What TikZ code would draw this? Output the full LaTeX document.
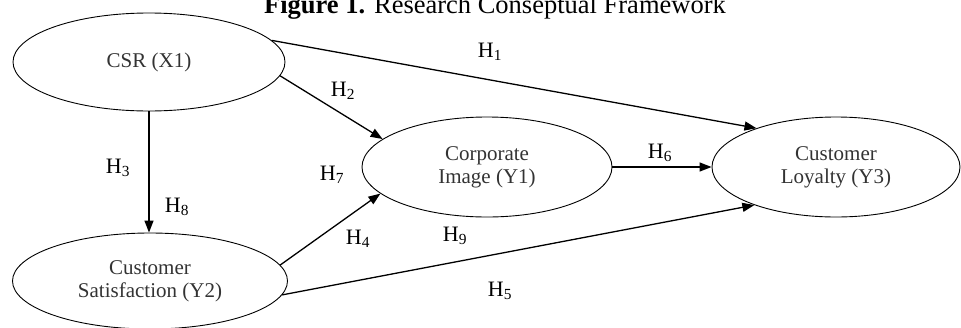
\documentclass[tikz,border=0pt]{standalone}
\usepackage{fontspec}
\setmainfont{Liberation Serif}
\usetikzlibrary{shapes.geometric,arrows.meta,calc}

\tikzset{
  construct/.style={ellipse, draw, line width=0.9pt, inner sep=0pt, text=black!80,
    align=center, font=\fontsize{21}{23}\selectfont},
  hyp/.style={font=\fontsize{22}{24}\selectfont},
  path/.style={line width=1.3pt, -{Triangle[length=12pt,width=9pt]}}
}

\begin{document}
\begin{tikzpicture}[x=1pt,y=-1pt]
\useasboundingbox (0,0) rectangle (961,327);
% title (cut at the top)
\node[anchor=base, inner sep=0pt, font=\fontsize{26.5}{28}\selectfont] (title) at (495,13)
  {\textbf{Figure 1.} Research Conseptual Framework};
% the four constructs
\node[construct, minimum width=272, minimum height=98] (csr) at (149,62) {CSR (X1)};
\node[construct, minimum width=275, minimum height=96] (sat) at (150,281) {Customer\\Satisfaction (Y2)};
\node[construct, minimum width=250, minimum height=100] (img) at (487,167) {Corporate\\Image (Y1)};
\node[construct, minimum width=248, minimum height=100] (loy) at (836,167) {Customer\\Loyalty (Y3)};
% paths between them
\draw[path] (csr.10) -- (loy.154);
\draw[path] (csr.-6) -- (img.165);
\draw[path] (csr.south) -- (csr.south |- sat.north);
\draw[path] (sat.7) -- (img.194);
\draw[path] (sat.-6) -- (loy.205);
\draw[path] (img.east) -- (img.east -| loy.west);
% hypothesis labels
\node[hyp] (h1) at (490,52) {H\textsubscript{1}};
\node[hyp] (h2) at (343,91) {H\textsubscript{2}};
\node[hyp] (h3) at (118,168) {H\textsubscript{3}};
\node[hyp] (h8) at (177,207) {H\textsubscript{8}};
\node[hyp] (h7) at (332,175) {H\textsubscript{7}};
\node[hyp] (h4) at (358,239) {H\textsubscript{4}};
\node[hyp] (h9) at (455,236) {H\textsubscript{9}};
\node[hyp] (h6) at (660,153) {H\textsubscript{6}};
\node[hyp] (h5) at (500,291) {H\textsubscript{5}};
\end{tikzpicture}
\end{document}
